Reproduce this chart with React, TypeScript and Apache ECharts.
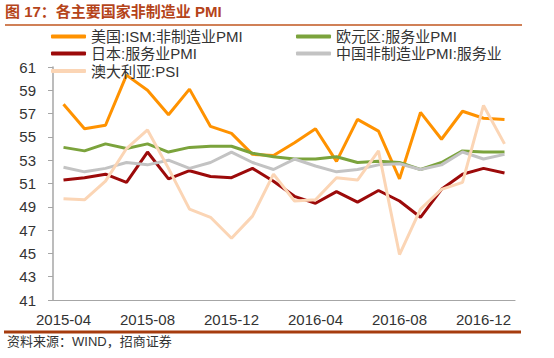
import React, { useEffect, useRef } from "react";
import * as echarts from "echarts";

const months = [
  "2015-04", "2015-05", "2015-06", "2015-07", "2015-08", "2015-09", "2015-10", "2015-11",
  "2015-12", "2016-01", "2016-02", "2016-03", "2016-04", "2016-05", "2016-06", "2016-07",
  "2016-08", "2016-09", "2016-10", "2016-11", "2016-12", "2017-01",
];

const usISM = [57.8, 55.7, 56.0, 60.3, 59.0, 56.9, 59.1, 55.9, 55.3, 53.5, 53.4, 54.5, 55.7, 52.9, 56.5, 55.5, 51.4, 57.1, 54.8, 57.2, 56.6, 56.5];
const euroServices = [54.1, 53.8, 54.4, 54.0, 54.4, 53.7, 54.1, 54.2, 54.2, 53.6, 53.3, 53.1, 53.1, 53.3, 52.8, 52.9, 52.8, 52.2, 52.8, 53.8, 53.7, 53.7];
const japanServices = [51.3, 51.5, 51.8, 51.1, 53.7, 51.4, 52.1, 51.6, 51.5, 52.3, 51.2, 49.9, 49.3, 50.3, 49.4, 50.4, 49.5, 48.1, 50.5, 51.8, 52.3, 51.9];
const chinaServices = [52.4, 52.0, 52.3, 52.8, 52.6, 53.0, 52.3, 52.8, 53.7, 52.8, 52.2, 53.1, 52.5, 52.0, 52.2, 52.6, 52.7, 52.2, 52.6, 53.7, 53.1, 53.5];
const australiaPSI = [49.7, 49.6, 51.2, 54.0, 55.6, 52.3, 48.8, 48.1, 46.3, 48.2, 51.8, 49.5, 49.6, 51.5, 51.3, 53.8, 44.9, 48.8, 50.5, 51.1, 57.7, 54.4];

const seriesNames = [
  "美国:ISM:非制造业PMI",
  "欧元区:服务业PMI",
  "日本:服务业PMI",
  "中国非制造业PMI:服务业",
  "澳大利亚:PSI",
];
const seriesColors = ["#FF9200", "#7BA33C", "#9C0A0A", "#C3C3C3", "#FBD5B5"];
const seriesData = [usISM, euroServices, japanServices, chinaServices, australiaPSI];

const titleText = "图 17：各主要国家非制造业 PMI";
const sourceText = "资料来源：WIND，招商证券";

const FONT = "'Liberation Sans', Arial, 'Noto Sans CJK SC', sans-serif";

export default function App() {
  const ref = useRef<HTMLDivElement>(null);
  useEffect(() => {
    if (!ref.current) return;
    const chart = echarts.init(ref.current, undefined, { renderer: "svg" });
    const legendPos = [
      { left: 51, top: 29 },
      { left: 296, top: 29 },
      { left: 51, top: 46 },
      { left: 296, top: 46 },
      { left: 51, top: 63.5 },
    ];
    chart.setOption({
      animation: false,
      backgroundColor: "#ffffff",
      textStyle: { fontFamily: FONT },
      grid: { left: 53, right: 39, top: 67, bottom: 58 },
      legend: seriesNames.map((n, i) => ({
        data: [n],
        left: legendPos[i].left,
        top: legendPos[i].top,
        padding: 0,
        itemWidth: 35,
        itemHeight: 4,
        icon: "roundRect",
        textStyle: { fontSize: 15, color: "#333", fontFamily: FONT },
      })),
      xAxis: {
        type: "category",
        data: months,
        boundaryGap: true,
        axisLine: { lineStyle: { color: "#A6A6A6", width: 1.2 } },
        axisTick: { interval: 3, length: 5, lineStyle: { color: "#A6A6A6" } },
        axisLabel: { interval: 3, margin: 12, fontSize: 15, color: "#333", fontFamily: FONT },
        splitLine: { show: false },
      },
      yAxis: {
        type: "value",
        min: 41,
        max: 61,
        interval: 2,
        axisLine: { show: true, lineStyle: { color: "#A6A6A6", width: 1.5 } },
        axisTick: { show: true, length: 5, lineStyle: { color: "#A6A6A6" } },
        axisLabel: { margin: 17, fontSize: 15, color: "#333", fontFamily: FONT },
        splitLine: { show: false },
      },
      series: seriesNames.map((n, i) => ({
        name: n,
        type: "line",
        data: seriesData[i],
        symbol: "none",
        color: seriesColors[i],
        lineStyle: { color: seriesColors[i], width: 3 },
      })),
      graphic: [
        {
          type: "text",
          left: 5,
          top: 4,
          style: {
            text: titleText,
            font: `bold 15px ${FONT}`,
            fill: "#B5441A",
          },
        },
        {
          type: "line",
          shape: { x1: 5, y1: 25, x2: 522, y2: 25 },
          style: { stroke: "#C0561F", lineWidth: 1.5 },
        },
        {
          type: "line",
          shape: { x1: 4, y1: 332, x2: 521, y2: 332 },
          style: { stroke: "#A63C0E", lineWidth: 3 },
        },
        {
          type: "text",
          left: 7,
          top: 335,
          style: {
            text: sourceText,
            font: `13px ${FONT}`,
            fill: "#333",
          },
        },
      ],
    });
    return () => chart.dispose();
  }, []);
  return (
    <div
      ref={ref}
      style={{ position: "absolute", left: 0, top: 0, width: 554, height: 358 }}
    />
  );
}
